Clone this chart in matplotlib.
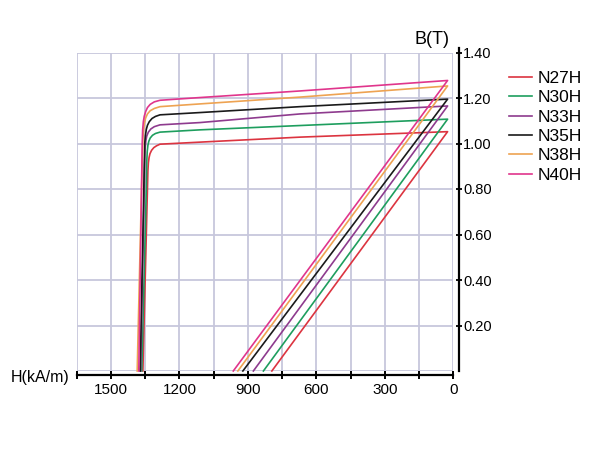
import matplotlib
matplotlib.use("Agg")
import matplotlib.pyplot as plt
from matplotlib.ticker import FixedLocator, FuncFormatter

plt.rcParams['font.family'] = ['Liberation Sans', 'DejaVu Sans']

grades = ["N27H", "N30H", "N33H", "N35H", "N38H", "N40H"]
colors = ["#dc3440", "#1e9e5e", "#8e3b8e", "#1a1a1a", "#eea352", "#e0358c"]

# Intrinsic curves (H in kA/m, B in T), from H=0 side over the knee and down
N27H_H = [25, 671, 1110, 1285, 1300, 1312, 1322, 1329, 1333, 1336, 1338, 1340, 1360]
N27H_B = [1.052, 1.028, 1.006, 0.997, 0.990, 0.982, 0.970, 0.955, 0.938, 0.915, 0.88, 0.80, 0.0]
N30H_H = [25, 671, 1110, 1285, 1305, 1318, 1328, 1334, 1338, 1341, 1343, 1345, 1365]
N30H_B = [1.107, 1.079, 1.060, 1.050, 1.044, 1.036, 1.024, 1.010, 0.992, 0.965, 0.92, 0.80, 0.0]
N33H_H = [25, 671, 1110, 1285, 1310, 1325, 1336, 1343, 1347, 1350, 1352, 1354, 1370]
N33H_B = [1.165, 1.130, 1.092, 1.082, 1.074, 1.064, 1.050, 1.033, 1.012, 0.98, 0.93, 0.80, 0.0]
N35H_H = [25, 671, 1110, 1285, 1305, 1320, 1332, 1340, 1345, 1349, 1352, 1356, 1372]
N35H_B = [1.195, 1.162, 1.136, 1.126, 1.119, 1.110, 1.096, 1.080, 1.062, 1.035, 1.00, 0.80, 0.0]
N38H_H = [25, 671, 1110, 1285, 1310, 1328, 1340, 1348, 1353, 1357, 1360, 1366, 1385]
N38H_B = [1.253, 1.204, 1.174, 1.162, 1.154, 1.144, 1.130, 1.112, 1.090, 1.060, 1.02, 0.80, 0.0]
N40H_H = [25, 671, 1110, 1285, 1310, 1328, 1340, 1348, 1354, 1358, 1361, 1363, 1366, 1378]
N40H_B = [1.277, 1.231, 1.202, 1.190, 1.183, 1.172, 1.158, 1.140, 1.120, 1.096, 1.06, 1.00, 0.80, 0.0]

# Normal (B-H) lines: start at the corner (H=25, Br) and reach B=0 at Hcb
Hcb = [795, 832, 876, 922, 944, 964]

intrinsic_H = [N27H_H, N30H_H, N33H_H, N35H_H, N38H_H, N40H_H]
intrinsic_B = [N27H_B, N30H_B, N33H_B, N35H_B, N38H_B, N40H_B]

x_ticks = [0, 150, 300, 450, 600, 750, 900, 1050, 1200, 1350, 1500, 1650]
y_ticks = [0.2, 0.4, 0.6, 0.8, 1.0, 1.2, 1.4]

fig = plt.figure(figsize=(6, 4.5), dpi=100)
ax = fig.add_axes([76.7 / 600, 1 - 371 / 450, (453.3 - 76.7) / 600, (371 - 52.5) / 450])

grid_c = "#c7c7dc"
ax.set_xlim(1650, 0)
ax.set_ylim(0, 1.40)

for i, g in enumerate(grades):
    H = list(reversed(intrinsic_H[i])) + [Hcb[i]]
    B = list(reversed(intrinsic_B[i])) + [0.0]
    ax.plot(H, B, color=colors[i], lw=1.2, label=g, zorder=3, clip_on=False,
            solid_joinstyle='round')

ax.xaxis.set_major_locator(FixedLocator(x_ticks))
ax.xaxis.set_major_formatter(FuncFormatter(lambda v, p: f"{int(v)}" if int(v) % 300 == 0 else ""))
ax.yaxis.set_major_locator(FixedLocator(y_ticks))
ax.yaxis.set_major_formatter(FuncFormatter(lambda v, p: f"{v:.2f}"))

ax.grid(True, color=grid_c, lw=1.3, zorder=0)
ax.axhline(0, color=grid_c, lw=1.3, zorder=0)
ax.set_axisbelow(True)

for s in ["top", "left"]:
    ax.spines[s].set_visible(False)
ax.spines["right"].set_position(("outward", 4))
ax.spines["right"].set_linewidth(1.6)
ax.spines["right"].set_bounds(0, 1.42)
ax.spines["bottom"].set_position(("outward", 3))
ax.spines["bottom"].set_linewidth(1.6)

ax.yaxis.tick_right()
ax.tick_params(axis="x", direction="inout", length=6, width=1.4, labelsize=11, pad=3)
ax.tick_params(axis="y", direction="inout", length=4.5, width=1.3, labelsize=10.5, pad=1)

fig.text(70 / 600, 1 - 377.5 / 450, "H(kA/m)", ha="right", va="center", fontsize=11.5)
fig.text(432 / 600, 1 - 40 / 450, "B(T)", ha="center", va="center", fontsize=13)

fig.legend(loc="upper left", bbox_to_anchor=(509 / 600, 1 - 71 / 450), frameon=False,
           fontsize=12.5, handlelength=1.35, handletextpad=0.3, labelspacing=0.24,
           borderpad=0, borderaxespad=0)

fig.savefig("out.png", dpi=100)
